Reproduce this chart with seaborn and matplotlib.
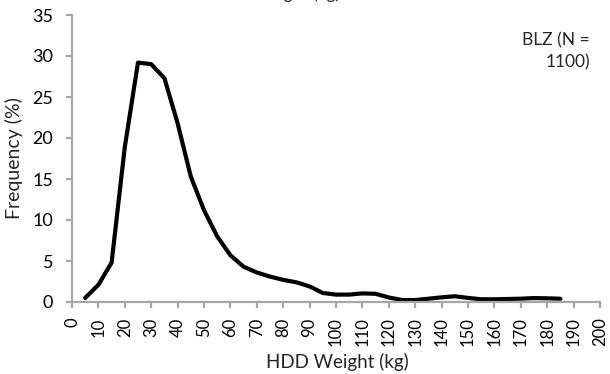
import matplotlib
matplotlib.use("Agg")
import matplotlib.pyplot as plt
import seaborn as sns
import pandas as pd

weight_kg = [5, 10, 15, 20, 25, 30, 35, 40, 45, 50, 55, 60, 65, 70, 75, 80, 85, 90, 95,
             100, 105, 110, 115, 120, 125, 130, 135, 140, 145, 150, 155, 160, 165, 170,
             175, 180, 185]
frequency_pct = [0.5, 2.1, 4.8, 18.9, 29.2, 29.0, 27.3, 21.8, 15.3, 11.2, 8.0, 5.7, 4.3,
                 3.6, 3.1, 2.7, 2.4, 1.9, 1.1, 0.9, 0.9, 1.05, 1.0, 0.55, 0.24, 0.24, 0.4,
                 0.57, 0.7, 0.5, 0.33, 0.33, 0.37, 0.4, 0.48, 0.45, 0.4]
x_ticks = list(range(0, 201, 10))
y_ticks = list(range(0, 36, 5))
annotation = "BLZ (N =\n1100)"

sns.set_style("white")
plt.rcParams['font.family'] = ['Lato', 'DejaVu Sans']

df = pd.DataFrame({"w": weight_kg, "f": frequency_pct})

fig = plt.figure(figsize=(6.10, 3.74), dpi=100)
ax = fig.add_axes([72/610, 1 - 302/374, (600 - 72)/610, (302 - 15)/374])

sns.lineplot(data=df, x="w", y="f", ax=ax, color="black", linewidth=3.0,
             solid_joinstyle="round", solid_capstyle="round")

gray = "#a6a6a6"
ax.set_xlim(0, 200)
ax.set_ylim(0, 35)
ax.set_xticks(x_ticks)
ax.set_yticks(y_ticks)
ax.set_xticklabels([str(t) for t in x_ticks], rotation=90, fontsize=12)
ax.set_yticklabels([str(t) for t in y_ticks], fontsize=13)
for s in ["top", "right"]:
    ax.spines[s].set_visible(False)
for s in ["left", "bottom"]:
    ax.spines[s].set_color(gray)
    ax.spines[s].set_linewidth(1.6)
ax.tick_params(axis="both", direction="out", length=4.5, width=1.6, color=gray,
               labelcolor="black", left=True, bottom=True)
ax.tick_params(axis="y", pad=9)
ax.tick_params(axis="x", pad=6.5)
ax.grid(False)
ax.set_xlabel("HDD Weight (kg)", fontsize=13.5, va="top")
ax.set_ylabel("Frequency (%)", fontsize=14)
ax.xaxis.set_label_coords((337 - 72) / 528, -(353 - 302) / 287)
ax.yaxis.set_label_coords((23 - 72) / 528, 0.5)

fig.text(590/610, 1 - 32/374, annotation, ha="right", va="top", fontsize=12.5,
         linespacing=1.45)
# partially visible title at the top edge
fig.text(340/610, 1.004, "HDD Weight (kg)", ha="right", va="baseline", fontsize=12.5)

fig.savefig("out.png", dpi=100)
